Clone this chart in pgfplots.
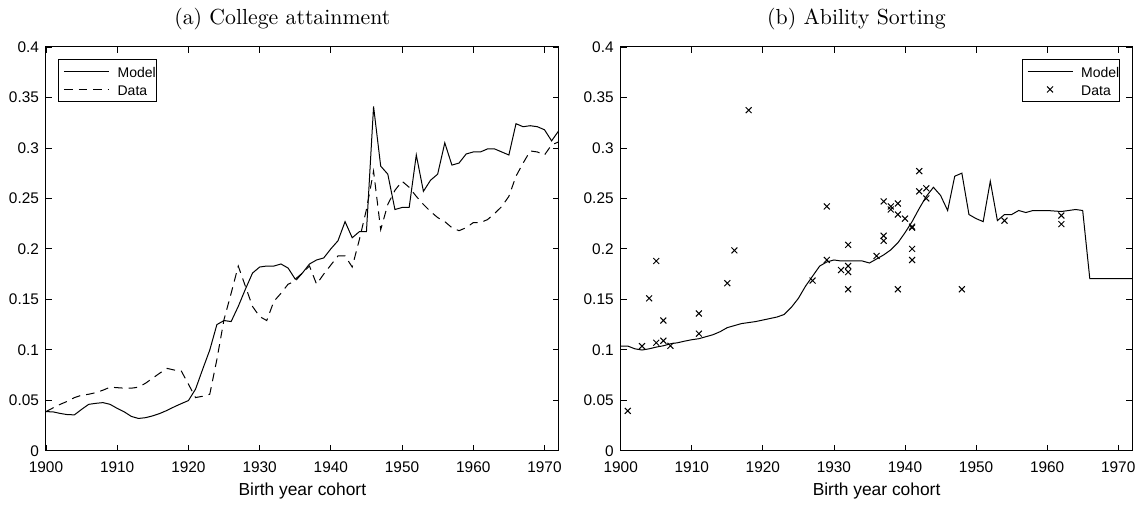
\documentclass[border=0pt]{standalone}
\usepackage{fontspec}
\setsansfont{Liberation Sans}
\usepackage{pgfplots}
\pgfplotsset{compat=1.18}

\pgfplotsset{
  matlab/.style={
    scale only axis, height=202pt,
    xmin=1900, xmax=1972, ymin=0, ymax=0.4,
    xtick={1900,1910,1920,1930,1940,1950,1960,1970},
    ytick={0,0.05,0.1,0.15,0.2,0.25,0.3,0.35,0.4},
    scaled x ticks=false, scaled y ticks=false,
    /pgf/number format/fixed,
    /pgf/number format/precision=2,
    /pgf/number format/1000 sep={},
    /pgf/number format/assume math mode=true,
    tick label style={font=\sffamily\fontsize{7.7}{9}\selectfont, black},
    xticklabel style={anchor=base, yshift=-11pt},
    xlabel style={font=\sffamily\fontsize{8.7}{10}\selectfont,
      at={(axis description cs:0.5,0)}, anchor=base, yshift=-22.5pt},
    title style={font=\fontsize{10.9}{13}\selectfont,
      at={(axis description cs:0.5,1)}, anchor=base, yshift=5pt, xshift=-10pt},
    major tick length=3pt, tick style={black, line width=0.4pt},
    axis line style={line width=0.5pt},
    xlabel={Birth year cohort},
    legend cell align=left,
    legend style={font=\sffamily\fontsize{7}{8}\selectfont, draw=black,
      line width=0.5pt, inner xsep=0pt, inner ysep=1.2pt, row sep=0pt,
      nodes={inner xsep=0.3pt, inner ysep=1.35pt, text height=6.5pt, text depth=0pt}},
  },
  ln/.style={black, line width=0.5pt, mark=none,
    legend image code/.code={\draw[##1] (2.5pt,0pt) -- (25pt,0pt);
      \path (0pt,0pt) (28.8pt,0pt);}},
  mk/.style={black, only marks, mark=x, mark size=2.1pt, line width=0.5pt,
    legend image code/.code={\draw[mark repeat=2,mark phase=2,##1]
      plot coordinates {(2.5pt,0pt) (13.75pt,0pt) (25pt,0pt)};
      \path (0pt,0pt) (28.8pt,0pt);}},
}

\begin{document}
\begin{tikzpicture}
\begin{axis}[matlab, width=256.5pt, title={(a) College attainment},
  legend style={at={(0,1)}, anchor=north west, xshift=6pt, yshift=-6pt}]
\addplot[ln] coordinates {
(1900,0.0388) (1901,0.0385) (1902,0.037) (1903,0.0358) (1904,0.0356) (1905,0.041)
(1906,0.046) (1907,0.047) (1908,0.0477) (1909,0.046) (1910,0.042) (1911,0.0385)
(1912,0.034) (1913,0.032) (1914,0.0328) (1915,0.0346) (1916,0.037) (1917,0.040)
(1918,0.0435) (1919,0.0467) (1920,0.0497) (1921,0.061) (1922,0.0807) (1923,0.0998)
(1924,0.125) (1925,0.129) (1926,0.128) (1927,0.143) (1928,0.160) (1929,0.176)
(1930,0.182) (1931,0.183) (1932,0.183) (1933,0.185) (1934,0.181) (1935,0.170)
(1936,0.176) (1937,0.185) (1938,0.189) (1939,0.191) (1940,0.200) (1941,0.208)
(1942,0.227) (1943,0.211) (1944,0.217) (1945,0.217) (1946,0.341) (1947,0.282)
(1948,0.274) (1949,0.239) (1950,0.241) (1951,0.241) (1952,0.293) (1953,0.257)
(1954,0.268) (1955,0.274) (1956,0.305) (1957,0.283) (1958,0.285) (1959,0.294)
(1960,0.296) (1961,0.296) (1962,0.299) (1963,0.299) (1964,0.296) (1965,0.293)
(1966,0.324) (1967,0.321) (1968,0.322) (1969,0.321) (1970,0.318) (1971,0.307)
(1972,0.317)};
\addlegendentry{Model}
\addplot[ln, dash pattern=on 4.3pt off 3pt] coordinates {
(1900,0.0388) (1901,0.0425) (1902,0.046) (1903,0.049) (1904,0.0527) (1905,0.055)
(1906,0.056) (1907,0.0576) (1908,0.060) (1909,0.063) (1910,0.0625) (1911,0.062)
(1912,0.062) (1913,0.063) (1914,0.067) (1915,0.072) (1916,0.077) (1917,0.0816)
(1918,0.080) (1919,0.079) (1920,0.066) (1921,0.0527) (1922,0.054) (1923,0.056)
(1924,0.0905) (1925,0.130) (1926,0.156) (1927,0.183) (1928,0.163) (1929,0.143)
(1930,0.133) (1931,0.129) (1932,0.148) (1933,0.156) (1934,0.165) (1935,0.168)
(1936,0.176) (1937,0.183) (1938,0.165) (1939,0.175) (1940,0.184) (1941,0.193)
(1942,0.193) (1943,0.182) (1944,0.209) (1945,0.239) (1946,0.277) (1947,0.219)
(1948,0.244) (1949,0.258) (1950,0.267) (1951,0.261) (1952,0.252) (1953,0.244)
(1954,0.237) (1955,0.231) (1956,0.227) (1957,0.221) (1958,0.218) (1959,0.221)
(1960,0.226) (1961,0.226) (1962,0.229) (1963,0.235) (1964,0.242) (1965,0.252)
(1966,0.272) (1967,0.285) (1968,0.297) (1969,0.296) (1970,0.293) (1971,0.303)
(1972,0.306)};
\addlegendentry{Data}
\end{axis}

\begin{axis}[matlab, width=256pt, xshift=287.5pt, title={(b) Ability Sorting},
  legend style={at={(1,1)}, anchor=north east, xshift=-6pt, yshift=-6pt}]
\addplot[ln] coordinates {
(1900,0.1037) (1901,0.1037) (1902,0.101) (1903,0.0998) (1904,0.101) (1905,0.1027)
(1906,0.104) (1907,0.106) (1908,0.107) (1909,0.1086) (1910,0.110) (1911,0.111)
(1912,0.113) (1913,0.115) (1914,0.118) (1915,0.122) (1916,0.124) (1917,0.126)
(1918,0.127) (1919,0.128) (1920,0.1295) (1921,0.131) (1922,0.1325) (1923,0.135)
(1924,0.142) (1925,0.151) (1926,0.163) (1927,0.173) (1928,0.183) (1929,0.187)
(1930,0.189) (1931,0.188) (1932,0.188) (1933,0.188) (1934,0.188) (1935,0.186)
(1936,0.190) (1937,0.194) (1938,0.199) (1939,0.206) (1940,0.216) (1941,0.227)
(1942,0.240) (1943,0.252) (1944,0.261) (1945,0.253) (1946,0.238) (1947,0.272)
(1948,0.275) (1949,0.234) (1950,0.230) (1951,0.227) (1952,0.267) (1953,0.228)
(1954,0.234) (1955,0.234) (1956,0.238) (1957,0.236) (1958,0.238) (1959,0.238)
(1960,0.238) (1961,0.2375) (1962,0.237) (1963,0.238) (1964,0.239) (1965,0.238)
(1966,0.1705) (1967,0.1705) (1968,0.1705) (1969,0.1705) (1970,0.1705) (1971,0.1705)
(1972,0.1705)};
\addlegendentry{Model}
\addplot[mk] coordinates {
(1901,0.0395) (1903,0.1037) (1904,0.151) (1905,0.188) (1905,0.107) (1906,0.129)
(1906,0.109) (1907,0.104) (1911,0.136) (1911,0.116) (1915,0.166) (1916,0.1985)
(1918,0.3374) (1927,0.1686) (1929,0.242) (1929,0.189) (1931,0.179) (1932,0.204)
(1932,0.183) (1932,0.177) (1932,0.160) (1936,0.193) (1937,0.247) (1937,0.213)
(1937,0.208) (1938,0.242) (1938,0.239) (1939,0.245) (1939,0.234) (1939,0.160)
(1940,0.230) (1941,0.222) (1941,0.221) (1941,0.200) (1941,0.189) (1942,0.277)
(1942,0.257) (1943,0.260) (1943,0.250) (1948,0.160) (1954,0.228) (1962,0.233)
(1962,0.2245)};
\addlegendentry{Data}
\end{axis}
\path (-23pt,-26.5pt) rectangle (548pt,225.5pt);
\end{tikzpicture}
\end{document}
